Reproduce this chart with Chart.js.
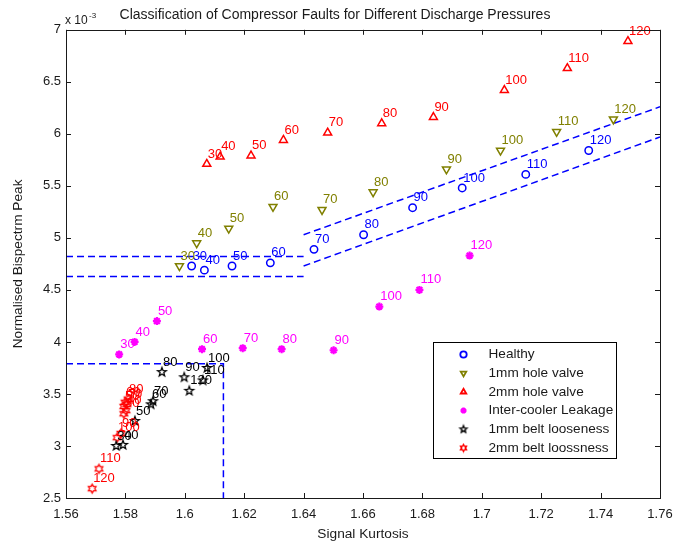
<!DOCTYPE html>
<html>
<head>
<meta charset="utf-8">
<title>Classification of Compressor Faults</title>
<script src="https://cdn.jsdelivr.net/npm/chart.js@4/dist/chart.umd.min.js"></script>
<style>
  html, body { margin: 0; padding: 0; background: #fff; }
  canvas { display: block; }
</style>
</head>
<body>
<canvas id="faults" width="675" height="543"></canvas>
<script>
const FONT = '"Liberation Sans", Arial, sans-serif';
const TEXT = '#1a1a1a';

// discharge pressure of each measurement (used as point tags)
const pressures = [30, 40, 50, 60, 70, 80, 90, 100, 110, 120];

// signal kurtosis (x) and normalised bispectrum peak (y, in 1e-3)
const healthyX = [1.6023, 1.6066, 1.6159, 1.6288, 1.6435, 1.6602, 1.6767, 1.6934, 1.7148, 1.7360];
const healthyY = [4.73, 4.69, 4.73, 4.76, 4.89, 5.03, 5.29, 5.48, 5.61, 5.84];

const valve1X = [1.5982, 1.6040, 1.6148, 1.6297, 1.6462, 1.6634, 1.6881, 1.7063, 1.7252, 1.7443];
const valve1Y = [4.73, 4.95, 5.09, 5.30, 5.27, 5.44, 5.66, 5.84, 6.02, 6.14];

const valve2X = [1.6074, 1.6119, 1.6223, 1.6332, 1.6481, 1.6663, 1.6837, 1.7076, 1.7288, 1.7492];
const valve2Y = [5.71, 5.78, 5.79, 5.94, 6.01, 6.10, 6.16, 6.42, 6.63, 6.89];

const leakX = [1.5779, 1.5831, 1.5906, 1.6058, 1.6195, 1.6326, 1.6501, 1.6655, 1.6790, 1.6959];
const leakY = [3.88, 4.00, 4.20, 3.93, 3.94, 3.93, 3.92, 4.34, 4.50, 4.83];

const belt1X = [1.5769, 1.5792, 1.5832, 1.5886, 1.5893, 1.5923, 1.5998, 1.6075, 1.6061, 1.6015];
const belt1Y = [3.00, 3.01, 3.24, 3.40, 3.43, 3.71, 3.66, 3.75, 3.63, 3.53];

const belt2X = [1.5795, 1.5802, 1.5795, 1.5799, 1.5805, 1.5809, 1.5785, 1.5772, 1.5711, 1.5688];
const belt2Y = [3.31, 3.34, 3.38, 3.42, 3.40, 3.45, 3.12, 3.08, 2.78, 2.59];

// class boundaries (dashed)
const lowTopX = [1.56, 1.64];
const lowTopY = [4.82, 4.82];
const lowBotX = [1.56, 1.64];
const lowBotY = [4.63, 4.63];
const slopeTopX = [1.64, 1.76];
const slopeTopY = [5.03, 6.26];
const slopeBotX = [1.64, 1.76];
const slopeBotY = [4.73, 5.97];
const beltBoxX = [1.56, 1.613, 1.613];
const beltBoxY = [3.79, 3.79, 2.5];

const xTicks = [1.56, 1.58, 1.6, 1.62, 1.64, 1.66, 1.68, 1.7, 1.72, 1.74, 1.76];
const yTicks = [2.5, 3, 3.5, 4, 4.5, 5, 5.5, 6, 6.5, 7];

const legendNames = ['Healthy', '1mm hole valve', '2mm hole valve',
  'Inter-cooler Leakage', '1mm belt looseness', '2mm belt loossness'];

// star shaped markers (pentagram / hexagram) drawn on small canvases
function starMarker(n, outer, ratio, color, width) {
  const size = Math.ceil(outer * 2 + 4);
  const c = document.createElement('canvas');
  c.width = size; c.height = size;
  const g = c.getContext('2d');
  const inner = outer * ratio;
  g.beginPath();
  for (let i = 0; i < n * 2; i++) {
    const r = i % 2 === 0 ? outer : inner;
    const a = -Math.PI / 2 + i * Math.PI / n;
    const px = size / 2 + r * Math.cos(a), py = size / 2 + r * Math.sin(a);
    if (i === 0) g.moveTo(px, py); else g.lineTo(px, py);
  }
  g.closePath();
  g.strokeStyle = color;
  g.lineWidth = width;
  g.stroke();
  return c;
}

const pentagram = starMarker(5, 4.6, 0.42, '#000000', 1.3);
const hexagram = starMarker(6, 4.4, 0.58, '#ff0000', 1.3);
const pentagramSmall = starMarker(5, 3.6, 0.45, '#000000', 1.4);
const hexagramSmall = starMarker(6, 3.4, 0.58, '#ff0000', 1.5);

function points(xs, ys) {
  return xs.map((x, i) => ({ x: x, y: ys[i] }));
}

function series(name, xs, ys, color, style, radius, rotation, keyStyle, width) {
  return {
    label: name,
    data: points(xs, ys),
    showLine: false,
    pointStyle: style,
    pointRadius: radius,
    pointRotation: rotation || 0,
    pointBorderColor: color,
    pointBackgroundColor: 'rgba(0,0,0,0)',
    pointBorderWidth: width || 1.5,
    tags: pressures,
    tagColor: color,
    keyStyle: keyStyle || style
  };
}

function boundary(xs, ys) {
  return {
    data: points(xs, ys),
    showLine: true,
    borderColor: '#0000ff',
    borderWidth: 1.5,
    borderDash: [7, 4],
    pointRadius: 0,
    fill: false
  };
}

const classes = [
  series(legendNames[0], healthyX, healthyY, '#0000ff', 'circle', 3.7),
  series(legendNames[1], valve1X, valve1Y, '#808000', 'triangle', 4.6, 180),
  series(legendNames[2], valve2X, valve2Y, '#ff0000', 'triangle', 4.6),
  series(legendNames[3], leakX, leakY, '#ff00ff', 'star', 4, 0, null, 2.2),
  series(legendNames[4], belt1X, belt1Y, '#000000', pentagram, 4.6, 0, pentagramSmall),
  series(legendNames[5], belt2X, belt2Y, '#ff0000', hexagram, 4.4, 0, hexagramSmall)
];

// pressure value written next to every marker
const pointTags = {
  id: 'pointTags',
  afterDatasetsDraw(chart) {
    const ctx = chart.ctx;
    ctx.save();
    ctx.font = '13px ' + FONT;
    ctx.textAlign = 'left';
    ctx.textBaseline = 'middle';
    chart.data.datasets.forEach((ds, i) => {
      if (!ds.tags) return;
      ctx.fillStyle = ds.tagColor;
      chart.getDatasetMeta(i).data.forEach((pt, j) => {
        ctx.fillText(String(ds.tags[j]), pt.x + 1, pt.y - 10);
      });
    });
    ctx.restore();
  }
};

// boxed axes with inward ticks, the 10^-3 multiplier and the legend
const boxAxes = {
  id: 'boxAxes',
  afterDraw(chart) {
    const ctx = chart.ctx;
    const a = chart.chartArea;
    const xs = chart.scales.x, ys = chart.scales.y;
    const t = 5;
    ctx.save();
    ctx.strokeStyle = '#1a1a1a';
    ctx.lineWidth = 1;
    ctx.beginPath();
    xTicks.forEach(v => {
      const px = Math.round(xs.getPixelForValue(v)) + 0.5;
      ctx.moveTo(px, a.bottom); ctx.lineTo(px, a.bottom - t);
      ctx.moveTo(px, a.top); ctx.lineTo(px, a.top + t);
    });
    yTicks.forEach(v => {
      const py = Math.round(ys.getPixelForValue(v)) + 0.5;
      ctx.moveTo(a.left, py); ctx.lineTo(a.left + t, py);
      ctx.moveTo(a.right, py); ctx.lineTo(a.right - t, py);
    });
    ctx.stroke();
    ctx.strokeRect(Math.round(a.left) + 0.5, Math.round(a.top) + 0.5,
      Math.round(a.right - a.left), Math.round(a.bottom - a.top));

    ctx.fillStyle = TEXT;
    ctx.textBaseline = 'middle';
    ctx.textAlign = 'left';
    ctx.font = '12px ' + FONT;
    ctx.fillText('x 10', a.left - 1, a.top - 9);
    ctx.font = '8px ' + FONT;
    ctx.fillText('-3', a.left + 23, a.top - 14);

    // legend
    const lx = 433.5, ly = 342.5, lw = 183, lh = 116;
    ctx.fillStyle = '#ffffff';
    ctx.fillRect(lx, ly, lw, lh);
    ctx.strokeStyle = '#000000';
    ctx.strokeRect(lx, ly, lw, lh);
    ctx.font = '13.6px ' + FONT;
    classes.forEach((ds, i) => {
      const rowY = ly + 12 + i * 18.7;
      ctx.strokeStyle = ds.pointBorderColor;
      ctx.fillStyle = ds.pointStyle === 'star' ? ds.pointBorderColor : 'rgba(0,0,0,0)';
      ctx.lineWidth = ds.pointStyle === 'star' ? 2.2 : 1.8;
      Chart.helpers.drawPoint(ctx, {
        pointStyle: ds.keyStyle,
        radius: ds.pointStyle === 'star' ? 3 : 3.2,
        rotation: ds.pointRotation,
        borderWidth: ctx.lineWidth
      }, lx + 30, rowY);
      ctx.fillStyle = TEXT;
      ctx.fillText(ds.label, lx + 55, rowY);
    });
    ctx.restore();
  }
};

const tickFont = { family: FONT, size: 13 };
const titleFont = { family: FONT, size: 13.7 };

new Chart(document.getElementById('faults'), {
  type: 'scatter',
  data: {
    datasets: classes.concat([
      boundary(lowTopX, lowTopY),
      boundary(lowBotX, lowBotY),
      boundary(slopeTopX, slopeTopY),
      boundary(slopeBotX, slopeBotY),
      boundary(beltBoxX, beltBoxY)
    ])
  },
  options: {
    responsive: false,
    animation: false,
    layout: { padding: { left: 10, right: 15, top: 0, bottom: 0 } },
    plugins: {
      legend: { display: false },
      tooltip: { enabled: false },
      title: {
        display: true,
        text: 'Classification of Compressor Faults for Different Discharge Pressures',
        font: { family: FONT, size: 14, weight: 'normal' },
        color: TEXT,
        padding: { top: 7, bottom: 6 }
      }
    },
    scales: {
      x: {
        type: 'linear',
        min: 1.56,
        max: 1.76,
        afterBuildTicks: s => { s.ticks = xTicks.map(v => ({ value: v })); },
        afterFit: s => { s.height = 45; s.paddingLeft = 0; s.paddingRight = 0; },
        grid: { display: false, drawTicks: false },
        border: { display: false },
        ticks: {
          font: tickFont, color: TEXT, padding: 9, maxRotation: 0, autoSkip: false,
          callback: v => String(+v.toFixed(2))
        },
        title: {
          display: true, text: 'Signal Kurtosis', font: titleFont, color: TEXT,
          padding: { top: 0, bottom: 1 }
        }
      },
      y: {
        type: 'linear',
        min: 2.5,
        max: 7,
        afterBuildTicks: s => { s.ticks = yTicks.map(v => ({ value: v })); },
        afterFit: s => { s.width = 56; s.paddingTop = 0; s.paddingBottom = 0; },
        grid: { display: false, drawTicks: false },
        border: { display: false },
        ticks: {
          font: tickFont, color: TEXT, padding: 5, autoSkip: false,
          callback: v => String(v)
        },
        title: {
          display: true, text: 'Normalised Bispectrm Peak', font: titleFont, color: TEXT,
          padding: { top: 0, bottom: 0 }
        }
      }
    }
  },
  plugins: [pointTags, boxAxes]
});
</script>
</body>
</html>
